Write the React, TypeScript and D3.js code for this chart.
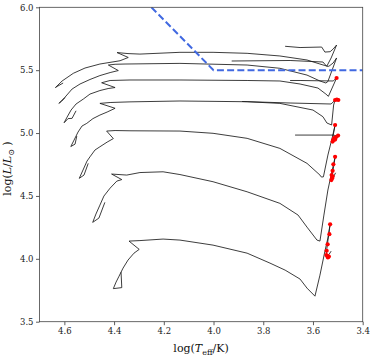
import React, { useEffect, useRef } from "react"
import * as d3 from "d3"

const xTicks = [4.6, 4.4, 4.2, 4.0, 3.8, 3.6, 3.4]
const yTicks = [3.5, 4.0, 4.5, 5.0, 5.5, 6.0]

// evolutionary tracks, points are [log Teff, log L]
const track1 = [
	[4.372, 3.894], [4.369, 3.771], [4.403, 3.763], [4.392, 3.815], [4.38, 3.862],
	[4.364, 3.926], [4.344, 3.99], [4.32, 4.045], [4.299, 4.075], [4.34, 4.141],
	[4.296, 4.145], [4.203, 4.157], [4.135, 4.149], [4.002, 4.109], [3.865, 4.045],
	[3.773, 3.966], [3.712, 3.91], [3.652, 3.839], [3.624, 3.767], [3.592, 3.703],
	[3.572, 3.87], [3.552, 4.061], [3.54, 4.165], [3.531, 4.276], [3.544, 4.085],
	[3.546, 4.022], [3.536, 4.033], [3.527, 4.061],
]
const track2 = [
	[4.437, 4.449], [4.461, 4.324], [4.486, 4.29], [4.473, 4.356], [4.457, 4.427],
	[4.441, 4.499], [4.416, 4.562], [4.389, 4.618], [4.369, 4.63], [4.41, 4.674],
	[4.349, 4.666], [4.296, 4.686], [4.203, 4.692], [4.135, 4.67], [4.002, 4.613],
	[3.865, 4.533], [3.733, 4.441], [3.66, 4.348], [3.624, 4.252], [3.584, 4.149],
	[3.572, 4.141], [3.556, 4.348], [3.54, 4.547], [3.527, 4.666], [3.511, 4.809],
	[3.523, 4.658], [3.526, 4.626], [3.519, 4.646], [3.509, 4.684],
]
const track3 = [
	[4.504, 4.759], [4.521, 4.666], [4.54, 4.64], [4.525, 4.706], [4.509, 4.777],
	[4.497, 4.811], [4.477, 4.865], [4.457, 4.891], [4.428, 4.928], [4.403, 4.956],
	[4.43, 5.016], [4.396, 5.02], [4.336, 5.018], [4.135, 5.016], [4.002, 4.998],
	[3.865, 4.958], [3.733, 4.878], [3.624, 4.759], [3.572, 4.666], [3.566, 4.65],
	[3.558, 4.652], [3.54, 4.825], [3.523, 4.96], [3.511, 5.064], [3.519, 4.98],
	[3.507, 4.956], [3.499, 4.976], [3.519, 4.984], [3.672, 4.984],
]
const track4 = [
	[4.55, 4.976], [4.557, 4.912], [4.574, 4.893], [4.561, 4.944], [4.545, 5.008],
	[4.529, 5.056], [4.51, 5.077], [4.485, 5.115], [4.457, 5.143], [4.428, 5.167],
	[4.396, 5.197], [4.457, 5.236], [4.416, 5.243], [4.336, 5.248], [4.135, 5.255],
	[3.865, 5.249], [3.733, 5.236], [3.6, 5.183], [3.56, 5.13], [3.544, 5.08],
	[3.525, 5.064], [3.517, 5.223], [3.511, 5.263], [3.527, 5.231], [3.692, 5.239],
	[3.885, 5.251],
]
const track5 = [
	[4.553, 5.177], [4.569, 5.117], [4.585, 5.115], [4.601, 5.082], [4.589, 5.127],
	[4.573, 5.183], [4.553, 5.231], [4.524, 5.27], [4.497, 5.31], [4.457, 5.338],
	[4.424, 5.354], [4.396, 5.362], [4.45, 5.4], [4.416, 5.418], [4.336, 5.422],
	[4.135, 5.422], [3.865, 5.418], [3.733, 5.414], [3.652, 5.39], [3.58, 5.358],
	[3.548, 5.31], [3.538, 5.292], [3.523, 5.358], [3.505, 5.438], [3.519, 5.414],
	[3.652, 5.418], [3.692, 5.418],
]
const track6 = [
	[4.597, 5.282], [4.612, 5.251], [4.622, 5.236], [4.597, 5.286], [4.569, 5.35],
	[4.537, 5.39], [4.497, 5.426], [4.457, 5.457], [4.416, 5.481], [4.383, 5.497],
	[4.423, 5.541], [4.396, 5.547], [4.356, 5.549], [4.135, 5.554], [3.865, 5.541],
	[3.733, 5.515], [3.624, 5.461], [3.572, 5.414], [3.548, 5.398], [3.54, 5.41],
	[3.523, 5.501], [3.505, 5.597], [3.519, 5.557], [3.536, 5.531], [3.545, 5.531],
	[3.56, 5.565], [3.692, 5.577], [3.927, 5.573],
]
const track7 = [
	[4.605, 5.398], [4.626, 5.374], [4.636, 5.362], [4.609, 5.414], [4.564, 5.475],
	[4.517, 5.517], [4.457, 5.549], [4.376, 5.575], [4.343, 5.601], [4.388, 5.64],
	[4.344, 5.632], [4.296, 5.628], [4.135, 5.642], [4.002, 5.642], [3.865, 5.634],
	[3.733, 5.613], [3.624, 5.581], [3.572, 5.549], [3.552, 5.537], [3.544, 5.533],
	[3.527, 5.597], [3.505, 5.7], [3.519, 5.668], [3.531, 5.647], [3.552, 5.644],
	[3.565, 5.684], [3.652, 5.68], [3.712, 5.69],
]
const tracks = [track1, track2, track3, track4, track5, track6, track7]

// red markers along the cool end of the tracks
const markers = [
	[3.531, 4.274], [3.534, 4.196], [3.541, 4.115], [3.545, 4.064], [3.542, 4.022],
	[3.54, 4.011], [3.546, 4.03], [3.536, 4.018],
	[3.511, 4.811], [3.518, 4.751], [3.521, 4.7], [3.525, 4.666], [3.523, 4.64],
	[3.526, 4.626], [3.521, 4.654],
	[3.511, 5.064], [3.519, 4.944], [3.515, 4.96], [3.507, 4.968], [3.499, 4.98],
	[3.521, 4.932], [3.511, 4.948],
	[3.511, 5.263], [3.504, 5.267], [3.498, 5.263],
	[3.505, 5.438],
]

// dashed limit line
const limitLine = [[4.25, 6.0], [4.0, 5.5], [3.4, 5.5]]

const W = 374
const H = 360
const FONT = "DejaVu Serif"

const HRDiagram = () => {
	const ref = useRef(null)

	useEffect(() => {
		const marginLeft = 39.5
		const marginRight = 11.3
		const marginTop = 7.3
		const marginBottom = 38.3

		const x = d3.scaleLinear().domain([4.7, 3.4]).range([marginLeft, W - marginRight])
		const y = d3.scaleLinear().domain([3.5, 6.0]).range([H - marginBottom, marginTop])

		const svg = d3.select(ref.current)
		svg.selectAll("*").remove()

		svg
			.append("defs")
			.append("clipPath")
			.attr("id", "plot-clip")
			.append("rect")
			.attr("x", marginLeft)
			.attr("y", marginTop)
			.attr("width", W - marginLeft - marginRight)
			.attr("height", H - marginTop - marginBottom)

		const line = d3
			.line()
			.x(d => x(d[0]))
			.y(d => y(d[1]))

		const plot = svg.append("g").attr("clip-path", "url(#plot-clip)")

		// tracks
		plot
			.selectAll("path.track")
			.data(tracks)
			.join("path")
			.attr("class", "track")
			.attr("d", line)
			.attr("fill", "none")
			.attr("stroke", "#1a1a1a")
			.attr("stroke-width", 0.85)
			.attr("stroke-linejoin", "round")

		// markers
		plot
			.selectAll("circle")
			.data(markers)
			.join("circle")
			.attr("cx", d => x(d[0]))
			.attr("cy", d => y(d[1]))
			.attr("r", 2.1)
			.attr("fill", "#ff0000")

		// limit line
		plot
			.append("path")
			.attr("d", line(limitLine))
			.attr("fill", "none")
			.attr("stroke", "#4169e1")
			.attr("stroke-width", 2)
			.attr("stroke-dasharray", "7,3.2")

		// x axis
		const xAxis = d3
			.axisBottom(x)
			.tickValues(xTicks)
			.tickSize(3.5)
			.tickPadding(3)
			.tickFormat(d3.format(".1f"))

		svg
			.append("g")
			.attr("transform", `translate(0, ${H - marginBottom})`)
			.call(xAxis)
			.call(g => g.select(".domain").remove())
			.call(g => g.selectAll("line").attr("stroke", "#333").attr("stroke-width", 0.8))
			.call(g =>
				g
					.selectAll("text")
					.attr("fill", "#222")
					.style("font-family", FONT)
					.style("font-size", "8.5px"),
			)

		// y axis
		const yAxis = d3
			.axisLeft(y)
			.tickValues(yTicks)
			.tickSize(3.5)
			.tickPadding(2.5)
			.tickFormat(d3.format(".1f"))

		svg
			.append("g")
			.attr("transform", `translate(${marginLeft}, 0)`)
			.call(yAxis)
			.call(g => g.select(".domain").remove())
			.call(g => g.selectAll("line").attr("stroke", "#333").attr("stroke-width", 0.8))
			.call(g =>
				g
					.selectAll("text")
					.attr("fill", "#222")
					.style("font-family", FONT)
					.style("font-size", "8.5px"),
			)

		// frame
		svg
			.append("rect")
			.attr("x", marginLeft)
			.attr("y", marginTop)
			.attr("width", W - marginLeft - marginRight)
			.attr("height", H - marginTop - marginBottom)
			.attr("fill", "none")
			.attr("stroke", "#444")
			.attr("stroke-width", 0.8)

		// x label
		const xLabel = svg
			.append("text")
			.attr("x", (marginLeft + W - marginRight) / 2)
			.attr("y", 352)
			.attr("text-anchor", "middle")
			.style("font-family", FONT)
			.style("font-size", "11px")
			.attr("fill", "#111")
		xLabel.append("tspan").text("log(")
		xLabel.append("tspan").style("font-style", "italic").text("T")
		xLabel.append("tspan").attr("dy", 2.5).style("font-size", "8px").text("eff")
		xLabel.append("tspan").attr("dy", -2.5).text("/K)")

		// y label
		const yLabel = svg
			.append("text")
			.attr("transform", `translate(11, ${(marginTop + H - marginBottom) / 2 + 4}) rotate(-90)`)
			.attr("text-anchor", "middle")
			.style("font-family", FONT)
			.style("font-size", "11px")
			.attr("fill", "#111")
		yLabel.append("tspan").text("log(")
		yLabel.append("tspan").style("font-style", "italic").text("L")
		yLabel.append("tspan").text("/")
		yLabel.append("tspan").style("font-style", "italic").text("L")
		yLabel.append("tspan").attr("dy", 2.5).style("font-size", "8px").text("⊙")
		yLabel.append("tspan").attr("dy", -2.5).text(" )")
	}, [])

	return <svg ref={ref} width={W} height={H} style={{ display: "block" }}></svg>
}

export default function App() {
	return (
		<div style={{ position: "absolute", left: 0, top: 0, background: "#fff" }}>
			<HRDiagram />
		</div>
	)
}
